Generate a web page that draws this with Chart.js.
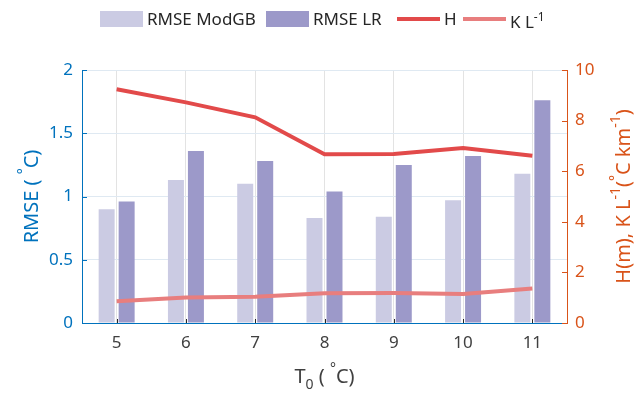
<!DOCTYPE html>
<html>
<head>
<meta charset="utf-8">
<script src="https://cdn.jsdelivr.net/npm/chart.js@4/dist/chart.umd.min.js"></script>
<style>
  html, body { margin: 0; padding: 0; background: #fff; }
  #wrap { position: relative; width: 643px; height: 396px; font-family: "Noto Sans", sans-serif; }
  #legend { position: absolute; top: 0; left: 0; width: 643px; height: 40px; color: #262626; font-size: 17px; }
  .item { position: absolute; top: 8px; height: 22px; line-height: 22px; white-space: nowrap; }
  .swatch { position: absolute; }
  sup { font-size: 12px; line-height: 0; vertical-align: 7px; }
</style>
</head>
<body>
<div id="wrap">
  <canvas id="c" width="643" height="396"></canvas>
  <div id="legend">
    <div class="swatch" style="left:100px;top:11px;width:43px;height:16px;background:#cbcbe3"></div>
    <div class="item" style="left:147px">RMSE ModGB</div>
    <div class="swatch" style="left:266px;top:11px;width:43px;height:16px;background:#9c99c9"></div>
    <div class="item" style="left:313px">RMSE LR</div>
    <div class="swatch" style="left:397px;top:17px;width:43px;height:4px;background:#e24a4a"></div>
    <div class="item" style="left:444px">H</div>
    <div class="swatch" style="left:463px;top:17px;width:43px;height:4px;background:#e87e7e"></div>
    <div class="item" style="left:510px;top:11px">K L<sup>-1</sup></div>
  </div>
</div>
<script>
// Freezing-level temperature categories (°C)
const categories = ['5', '6', '7', '8', '9', '10', '11'];
// RMSE of the two downscaling methods (°C), left axis
const rmseModGB = [0.90, 1.13, 1.10, 0.83, 0.84, 0.97, 1.18];
const rmseLR = [0.96, 1.36, 1.28, 1.04, 1.25, 1.32, 1.76];
// Height H (m) and lapse rate K L^-1 (°C km^-1), right axis
const heightH = [9.24, 8.72, 8.13, 6.67, 6.68, 6.92, 6.61];
const lapseK = [0.86, 1.01, 1.04, 1.18, 1.19, 1.15, 1.36];

const BLUE = '#0072bd';
const ORANGE = '#d95319';
const GREY = '#404040';
const FONT = '"Noto Sans", sans-serif';

// Draws a line of text made of normal, superscript and subscript pieces, centred on (cx, cy)
function drawRich(ctx, parts, cx, cy, rot, size, color) {
  ctx.save();
  ctx.translate(cx, cy);
  ctx.rotate(rot);
  ctx.fillStyle = color;
  ctx.textBaseline = 'middle';
  ctx.textAlign = 'left';
  const fonts = parts.map(p => ((p.sup || p.sub) ? Math.round(size * 0.68) : size) + 'px ' + FONT);
  let total = 0;
  const widths = parts.map((p, i) => { ctx.font = fonts[i]; const w = ctx.measureText(p.t).width; total += w; return w; });
  let x = -total / 2;
  parts.forEach((p, i) => {
    ctx.font = fonts[i];
    const dy = p.sup ? -size * 0.38 : (p.sub ? size * 0.4 : 0);
    ctx.fillText(p.t, x, dy);
    x += widths[i];
  });
  ctx.restore();
}

// Short inward tick marks on all three axes, plus the axis titles
const axisExtras = {
  id: 'axisExtras',
  afterDraw(chart) {
    const { ctx, chartArea: a, scales } = chart;
    ctx.save();
    ctx.lineWidth = 1;
    const yl = scales.y, yr = scales.y1, x = scales.x;
    ctx.strokeStyle = BLUE;
    yl.ticks.forEach((t, i) => {
      const p = Math.round(yl.getPixelForTick(i)) + 0.5;
      ctx.beginPath(); ctx.moveTo(a.left, p); ctx.lineTo(a.left + 5, p); ctx.stroke();
    });
    ctx.strokeStyle = ORANGE;
    yr.ticks.forEach((t, i) => {
      const p = Math.round(yr.getPixelForTick(i)) + 0.5;
      ctx.beginPath(); ctx.moveTo(a.right, p); ctx.lineTo(a.right - 5, p); ctx.stroke();
    });
    ctx.strokeStyle = '#262626';
    x.ticks.forEach((t, i) => {
      const p = Math.round(x.getPixelForTick(i)) + 0.5;
      ctx.beginPath(); ctx.moveTo(p, a.bottom); ctx.lineTo(p, a.bottom - 4); ctx.stroke();
    });
    ctx.restore();

    const midY = (a.top + a.bottom) / 2;
    drawRich(ctx, [
      { t: 'RMSE ( ' }, { t: '°', sup: true }, { t: 'C)' }
    ], 32, midY, -Math.PI / 2, 20, BLUE);
    drawRich(ctx, [
      { t: 'H(m), K L' }, { t: '-1', sup: true }, { t: '(' }, { t: '°', sup: true },
      { t: 'C km' }, { t: '-1', sup: true }, { t: ')' }
    ], 624, midY, -Math.PI / 2, 20, ORANGE);
    drawRich(ctx, [
      { t: 'T' }, { t: '0', sub: true }, { t: ' ( ' }, { t: '°', sup: true }, { t: 'C)' }
    ], (a.left + a.right) / 2, 377, 0, 20, GREY);
  }
};

new Chart(document.getElementById('c'), {
  data: {
    labels: categories,
    datasets: [
      { type: 'bar', label: 'RMSE ModGB', data: rmseModGB, backgroundColor: '#cbcbe3', yAxisID: 'y', order: 1,
        categoryPercentage: 0.577, barPercentage: 0.8 },
      { type: 'bar', label: 'RMSE LR', data: rmseLR, backgroundColor: '#9c99c9', yAxisID: 'y', order: 1,
        categoryPercentage: 0.577, barPercentage: 0.8 },
      { type: 'line', label: 'H', data: heightH, borderColor: '#e24a4a', backgroundColor: '#e24a4a',
        borderWidth: 4, pointRadius: 0, tension: 0, yAxisID: 'y1', order: 0 },
      { type: 'line', label: 'K L⁻¹', data: lapseK, borderColor: '#e87e7e', backgroundColor: '#e87e7e',
        borderWidth: 4, pointRadius: 0, tension: 0, yAxisID: 'y1', order: 0 }
    ]
  },
  options: {
    responsive: false,
    animation: false,
    devicePixelRatio: 1,
    layout: { padding: { top: 70, left: 0, right: 0, bottom: 0 } },
    plugins: { legend: { display: false }, tooltip: { enabled: false } },
    scales: {
      x: {
        type: 'category',
        offset: true,
        grid: { offset: false, color: '#e3e3e3', drawTicks: false },
        border: { color: BLUE, width: 1 },
        ticks: { color: GREY, font: { family: FONT, size: 17 }, padding: 10 },
        title: { display: false },
        afterFit(s) { s.height = 73; }
      },
      y: {
        position: 'left',
        min: 0, max: 2,
        ticks: { stepSize: 0.5, color: BLUE, font: { family: FONT, size: 17 }, padding: 9,
                 callback: v => String(v) },
        grid: { color: '#dfe9f2', drawTicks: false },
        border: { color: BLUE, width: 1 },
        title: { display: false },
        afterFit(s) { s.width = 82; }
      },
      y1: {
        position: 'right',
        min: 0, max: 10,
        ticks: { stepSize: 2, color: ORANGE, font: { family: FONT, size: 17 }, padding: 8 },
        grid: { display: false, drawTicks: false },
        border: { color: ORANGE, width: 1 },
        title: { display: false },
        afterFit(s) { s.width = 76; }
      }
    }
  },
  plugins: [axisExtras]
});
</script>
</body>
</html>
